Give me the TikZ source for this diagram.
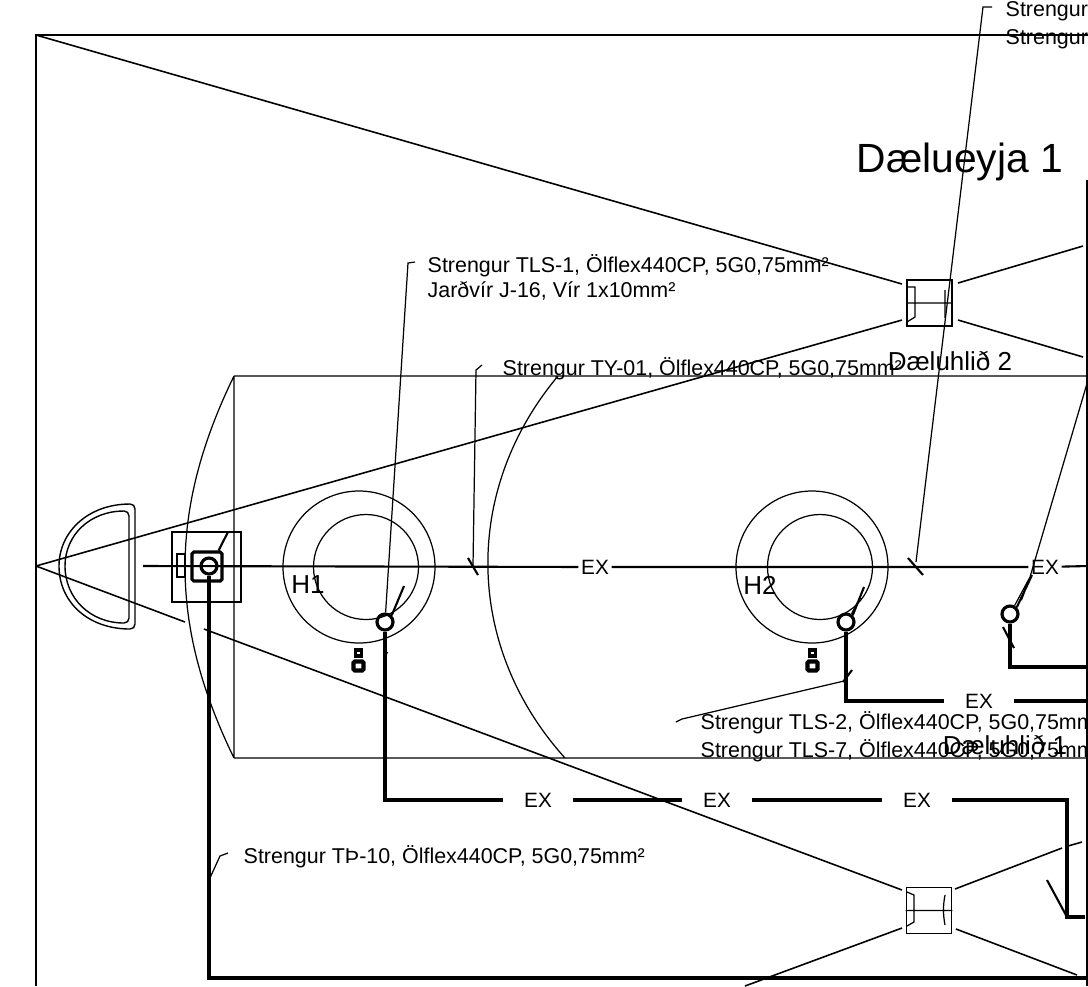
\documentclass[tikz,border=0pt]{standalone}
\usepackage{fontspec}
\setmainfont{Liberation Sans}
\usetikzlibrary{calc, positioning}

\tikzset{
  frameline/.style={line width=0.6pt},
  thinline/.style={line width=0.35pt},
  sightline/.style={line width=0.45pt},
  cableline/.style={line width=0.9pt},
  tickline/.style={line width=0.6pt},
  pumpbox/.style={draw, line width=0.45pt, minimum width=0.45cm, minimum height=0.46cm, inner sep=0pt},
  tankring/.style={circle, draw, line width=0.35pt, inner sep=0pt},
  sensor/.style={circle, draw, line width=0.9pt, minimum size=0.16cm, inner sep=0pt},
  lockbody/.style={draw, fill=white, line width=1.2pt, rounded corners=0.4pt, minimum width=0.1cm, minimum height=0.09cm, inner sep=0pt},
  locktop/.style={draw, fill=white, line width=1.1pt, minimum width=0.06cm, minimum height=0.06cm, inner sep=0pt},
  cabletext/.style={anchor=west, inner sep=0pt, font=\fontsize{6.1}{7}\selectfont},
  placetext/.style={inner sep=0pt, font=\fontsize{7.4}{9}\selectfont},
  exmark/.style={inner sep=0.02cm, font=\fontsize{5.9}{7}\selectfont},
  exgap/.style={exmark, inner xsep=0.2cm}
}

\begin{document}
\begin{tikzpicture}
    \useasboundingbox (0,0) rectangle (10.88,-9.86);
    \clip (0,0) rectangle (10.88,-9.86);

    \coordinate (frameTL) at (0.36,-0.35);
    \coordinate (frameBL) at (0.36,-9.86);
    \coordinate (frameTR) at (10.88,-0.35);
    \coordinate (frameRT) at (10.87,-1.80);
    \coordinate (frameRB) at (10.87,-9.86);
    \coordinate (apex) at (0.36,-5.66);

    \coordinate (tankTL) at (2.34,-3.76);
    \coordinate (tankBL) at (2.34,-7.58);
    \coordinate (tankTR) at (10.88,-3.76);
    \coordinate (tankBR) at (10.88,-7.58);
    \coordinate (domeT) at (5.58,-3.76);
    \coordinate (domeB) at (5.65,-7.58);

    \node[pumpbox] (pumpB) at (9.295,-3.03) {};
    \node[pumpbox] (pumpA) at (9.29,-9.105) {};

    \coordinate (upperLA) at (9.02,-2.84);
    \coordinate (upperLB) at (9.02,-3.20);
    \coordinate (upperRA) at (9.58,-2.83);
    \coordinate (upperRB) at (9.58,-3.20);
    \coordinate (upperRC) at (10.83,-2.46);
    \coordinate (upperRD) at (10.83,-3.57);

    \coordinate (gapA) at (1.85,-6.22);
    \coordinate (gapB) at (2.04,-6.29);
    \coordinate (lowerLA) at (9.02,-8.90);
    \coordinate (lowerLB) at (9.02,-9.28);
    \coordinate (lowerLC) at (7.45,-9.86);
    \coordinate (lowerRA) at (9.55,-8.89);
    \coordinate (lowerRB) at (10.62,-8.48);
    \coordinate (lowerRC) at (10.68,-8.46);
    \coordinate (lowerRD) at (10.82,-8.42);
    \coordinate (lowerRE) at (9.56,-9.29);
    \coordinate (lowerRF) at (10.77,-9.75);

    \node[tankring, minimum size=1.52cm] (ringA) at (3.59,-5.67) {};
    \node[tankring, minimum size=1.05cm] (coreA) at (3.66,-5.67) {};
    \node[tankring, minimum size=1.52cm] (ringB) at (8.12,-5.67) {};
    \node[tankring, minimum size=1.05cm] (coreB) at (8.20,-5.67) {};

    \node[draw, line width=0.45pt, minimum width=0.69cm, minimum height=0.70cm, inner sep=0pt] (hatch) at (2.065,-5.67) {};
    \node[draw, line width=0.3pt, minimum width=0.08cm, minimum height=0.23cm, inner sep=0pt] (hatchside) at (1.81,-5.655) {};
    \node[draw, line width=0.9pt, rounded corners=0.5pt, minimum width=0.30cm, minimum height=0.29cm, inner sep=0pt] (pumphead) at (2.07,-5.665) {};

    \draw[thinline]
    (tankTL) -- (tankTR)
    (tankBL) -- (tankBR)
    (tankTL) -- (tankBL)
    (tankTL) to[bend right=26] (tankBL)
    (domeT) to[bend right=41] (domeB);

    \draw[frameline]
    (frameBL) -- (frameTL) -- (frameTR)
    (frameRT) -- (frameRB);

    \draw[sightline]
    (frameTL) -- (upperLA)
    (apex) -- (upperLB)
    (upperRA) -- (upperRC)
    (upperRB) -- (upperRD)
    (apex) -- (gapA)
    (gapB) -- (lowerLA)
    (lowerLB) -- (lowerLC)
    (lowerRA) -- (lowerRB)
    (lowerRC) -- (lowerRD)
    (lowerRE) -- (lowerRF);

    \draw[line width=0.4pt]
    (1.30,-5.04) .. controls (0.88,-5.04) and (0.59,-5.32) .. (0.59,-5.66) .. controls (0.59,-6.02) and (0.88,-6.29) .. (1.30,-6.29) .. controls (1.33,-6.29) and (1.35,-6.27) .. (1.35,-6.24) -- (1.35,-5.09) .. controls (1.35,-5.06) and (1.33,-5.04) .. (1.30,-5.04);
    \draw[line width=0.4pt]
    (1.24,-5.11) .. controls (0.90,-5.11) and (0.65,-5.35) .. (0.65,-5.66) .. controls (0.65,-5.98) and (0.90,-6.23) .. (1.24,-6.23) .. controls (1.27,-6.23) and (1.29,-6.21) .. (1.29,-6.18) -- (1.29,-5.16) .. controls (1.29,-5.13) and (1.27,-5.11) .. (1.24,-5.11);

    \draw[thinline]
    (pumpB.west) -- (pumpB.east)
    (pumpA.west) -- (pumpA.east)
    (9.07,-2.87) -- (9.15,-2.87) -- (9.15,-3.17) -- (9.07,-3.22)
    (9.45,-2.90) -- (9.45,-3.18)
    (9.07,-8.92) -- (9.14,-8.95) -- (9.14,-9.22) -- (9.07,-9.26)
    (9.45,-8.95) .. controls (9.43,-9.05) and (9.43,-9.15) .. (9.45,-9.25);

    \node[sensor] (sensorP) at (2.09,-5.66) {};
    \node[sensor] (sensorA) at (3.85,-6.22) {};
    \node[sensor] (sensorB) at (8.46,-6.22) {};
    \node[sensor] (sensorC) at (10.10,-6.14) {};

    \node[locktop] (locktopA) at (3.585,-6.53) {};
    \node[lockbody] (lockA) at (3.585,-6.66) {};
    \node[locktop] (locktopB) at (8.125,-6.53) {};
    \node[lockbody] (lockB) at (8.125,-6.66) {};

    \coordinate (centreL) at (1.43,-5.66);
    \coordinate (centreR) at (10.88,-5.66);
    \node[exmark] (exmid) at (5.95,-5.67) {EX};
    \node[exmark] (exright) at (10.45,-5.67) {EX};
    \draw[frameline] (centreL) -- (exmid) -- (exright) -- (centreR);

    \node[exgap] (exlowA) at (5.38,-8.00) {EX};
    \node[exgap] (exlowB) at (7.17,-8.00) {EX};
    \node[exgap] (exlowC) at (9.17,-8.00) {EX};
    \node[exgap] (exupper) at (9.79,-7.01) {EX};

    \coordinate (cableP) at (10.87,-9.78);
    \coordinate (cableB) at (10.88,-7.01);
    \coordinate (cableC) at (10.88,-6.67);
    \coordinate (cableD) at (10.67,-9.17);
    \coordinate (cableE) at (10.85,-9.17);
    \coordinate (pumpfoot) at (10.47,-8.80);

    \draw[cableline]
    (sensorP) |- (cableP)
    (sensorA) |- (exlowA) -- (exlowB) -- (exlowC) -| (cableD) -- (cableE)
    (sensorB) |- (exupper) -- (cableB)
    (sensorC) |- (cableC);

    \draw[tickline]
    (pumphead.north east) ++(-0.05,0) -- (2.28,-5.32)
    (sensorA.north east) -- (4.04,-5.86)
    (sensorB.north east) -- (8.64,-5.87)
    (8.52,-6.14) -- (8.60,-5.98)
    (pumpfoot) -- (cableD)
    (sensorC.north east) -- (10.32,-5.75)
    (10.21,-6.00) -- (10.28,-5.82);

    \coordinate (hookA) at (4.15,-2.62);
    \coordinate (bendA) at (4.08,-2.63);
    \coordinate (hookB) at (4.82,-3.65);
    \coordinate (bendB) at (4.76,-3.70);
    \coordinate (hookC) at (9.92,-0.07);
    \coordinate (bendC) at (9.83,-0.07);
    \coordinate (hookD) at (6.76,-7.22);
    \coordinate (bendD) at (6.82,-7.19);
    \coordinate (hookE) at (2.28,-8.53);
    \coordinate (bendE) at (2.20,-8.56);
    \coordinate (pinB) at (4.73,-5.66);
    \coordinate (pinC) at (9.16,-5.62);
    \coordinate (pinD) at (8.44,-6.81);
    \coordinate (pinE) at (2.09,-8.80);
    \coordinate (freeF) at (10.88,-3.80);
    \coordinate (kneeF) at (10.30,-5.77);

    \draw[thinline]
    (hookA) -- (bendA) -- (sensorA)
    (hookB) -- (bendB) -- (pinB)
    (hookC) -- (bendC) -- (pinC)
    (hookD) -- (bendD) -- (pinD)
    (hookE) -- (bendE) -- (pinE)
    (freeF) -- (kneeF) -- (sensorC);

    \draw[tickline]
    (4.68,-5.58) -- (4.78,-5.75)
    (9.08,-5.58) -- (9.23,-5.75)
    (8.52,-6.70) -- (8.43,-6.82)
    (10.03,-6.27) -- (10.14,-6.48);
    \draw[thinline] (3.85,-6.50) -- (3.85,-6.54) (3.88,-6.53) -- (3.85,-6.52);

    \node[cabletext] (textA) at (4.27,-2.655) {Strengur TLS-1, Ölflex440CP, 5G0,75mm²};
    \node[cabletext] (textAb) at (4.27,-2.905) {Jarðvír J-16, Vír 1x10mm²};
    \node[cabletext] (textB) at (5.02,-3.685) {Strengur TY-01, Ölflex440CP, 5G0,75mm²};
    \node[cabletext] (textC) at (10.05,-0.115) {Strengur};
    \node[cabletext] (textCb) at (10.05,-0.395) {Strengur};
    \node[cabletext] (textD) at (7.00,-7.23) {Strengur TLS-2, Ölflex440CP, 5G0,75mm};
    \node[cabletext] (textDb) at (7.00,-7.51) {Strengur TLS-7, Ölflex440CP, 5G0,75mm};
    \node[cabletext] (textE) at (2.43,-8.57) {Strengur TÞ-10, Ölflex440CP, 5G0,75mm²};

    \node[inner sep=0pt, font=\fontsize{11.6}{14}\selectfont] (island) at (9.60,-1.62) {Dælueyja 1};
    \node[placetext] (pumpnameB) at (9.50,-3.61) {Dæluhlið 2};
    \node[placetext] (pumpnameA) at (10.05,-7.45) {Dæluhlið 1};
    \node[placetext] (nameA) at (3.08,-5.85) {H1};
    \node[placetext] (nameB) at (7.60,-5.85) {H2};
\end{tikzpicture}
\end{document}
